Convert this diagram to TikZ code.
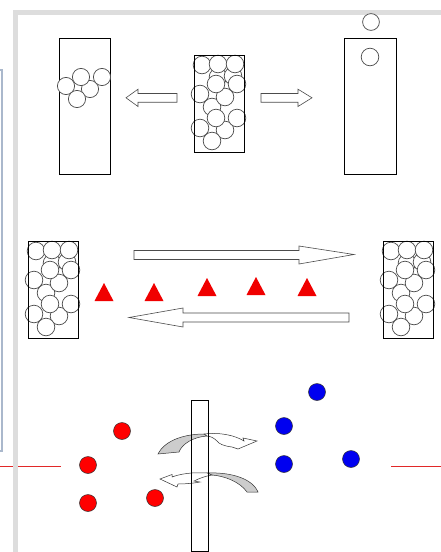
\documentclass[tikz,border=0pt]{standalone}
\begin{document}
\begin{tikzpicture}[x=1pt,y=-1pt,
  boxline/.style={draw=black,line width=0.8pt},
  ball/.style={draw=black!70,line width=0.7pt,fill=white},
  hollow/.style={draw=black!70,line width=0.6pt,fill=white},
  dotred/.style={draw=black!80,line width=0.5pt,fill={rgb,255:red,255;green,0;blue,0}},
  dotblue/.style={draw=black!80,line width=0.5pt,fill={rgb,255:red,0;green,0;blue,240}},
  tri/.style={fill={rgb,255:red,240;green,0;blue,0}},
  ribbon/.style={draw=black!80,line width=0.5pt,fill=black!20},
  ribbonback/.style={draw=black!80,line width=0.5pt,fill=white},
  band/.style={fill={rgb,255:red,221;green,221;blue,221}},
  redline/.style={draw={rgb,255:red,225;green,40;blue,40},line width=0.8pt}]
\useasboundingbox (0,0) rectangle (441,552);
\fill[white] (0,0) rectangle (441,552);
% left side box edge
\draw[draw={rgb,255:red,170;green,184;blue,204},line width=1.2pt] (-3,70) -- (2,70) -- (2,451) -- (-3,451);
% red horizontal lines
\draw[redline] (0,466.5) -- (61,466.5);
\draw[redline] (391,466.5) -- (441,466.5);
% gray frame
\fill[band] (13,9.5) rectangle (441,14.5);
\fill[band] (13,9.5) rectangle (18,552);
% packed pattern
\newcommand\packedballs[2]{%
  \foreach \dx/\dy in {24/22,39/21,8/10,24/9,41/9,18/52,31/42,22/29,43/29,6/39,31/75,22/63,43/63,6/73,18/86}
    {\draw[ball] ({#1+\dx},{#2+\dy}) circle[radius=8.8];}%
  \draw[boxline] (#1,#2) rectangle ({#1+50},{#2+97});}
% ---------- top row ----------
\draw[boxline] (59,38) rectangle (110,174);
\foreach \cx/\cy in {66/86,90/89,81/77,102/77,77/99}
  {\draw[ball] (\cx,\cy) circle[radius=8.6];}
\packedballs{194}{55}
\draw[boxline] (344,38) rectangle (396,174);
\draw[ball] (370,57) circle[radius=8.8];
\draw[ball] (371,22) circle[radius=8.4];
% short hollow arrows
\draw[hollow] (177,93.5) -- (138,93.5) -- (138,89.2) -- (126,97.8) -- (138,106.5) -- (138,102.2) -- (177,102.2) -- cycle;
\draw[hollow] (261,93.5) -- (298,93.5) -- (298,89.2) -- (312,97.8) -- (298,106.5) -- (298,102.2) -- (261,102.2) -- cycle;
% ---------- middle row ----------
\packedballs{28}{241}
\packedballs{383}{241}
\draw[hollow] (134,250.5) -- (299,250.5) -- (299,246) -- (354,254.5) -- (299,264) -- (299,259.5) -- (134,259.5) -- cycle;
\draw[hollow] (349,313) -- (183,313) -- (183,308) -- (129,317.5) -- (183,327) -- (183,322) -- (349,322) -- cycle;
\foreach \cx/\top/\bot in {104/283/301,154/283/301,207/278/296,256/277/295,307/278/296}
  {\fill[tri] (\cx,\top) -- ({\cx+9.5},\bot) -- ({\cx-9.5},\bot) -- cycle;}
% ---------- bottom row ----------
\foreach \cx/\cy in {122/431,88/465,88/503,155/498}
  {\draw[dotred] (\cx,\cy) circle[radius=8.5];}
\foreach \cx/\cy in {317/392,284/426,284/464,351/459}
  {\draw[dotblue] (\cx,\cy) circle[radius=8.5];}
% upper curved arrow
\draw[ribbon] (158,454) .. controls (165,440) and (185,434) .. (204,434) -- (207,436) .. controls (193,437) and (182,444) .. (179,452) -- cycle;
\draw[ribbonback] (204,434) .. controls (222,432) and (236,436) .. (244,441) -- (243,438) -- (257,441) -- (238,449) -- (232,447) .. controls (224,446) and (219,444) .. (217,441) .. controls (214,438) and (210,436) .. (207,436) -- cycle;
% lower curved arrow
\draw[ribbon] (207,473) .. controls (230,472) and (252,478) .. (258,492) -- (247,492) .. controls (240,482) and (225,476) .. (212,475) -- cycle;
\draw[ribbonback] (207,473) .. controls (192,472) and (180,474) .. (172,477) -- (172,474.5) -- (160,479) -- (177,487) -- (178,484) .. controls (186,484) and (195,483) .. (200,482) -- (194,481) .. controls (200,478) and (206,476) .. (212,475) -- cycle;
% vertical bar
\draw[boxline] (191,400) rectangle (208,551.5);
\end{tikzpicture}
\end{document}
